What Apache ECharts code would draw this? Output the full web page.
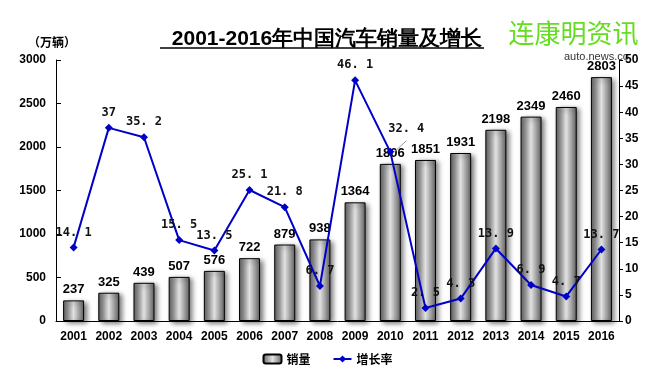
<!DOCTYPE html>
<html><head><meta charset="utf-8">
<script src="https://cdn.jsdelivr.net/npm/echarts@6/dist/echarts.min.js"></script>
<style>html,body{margin:0;padding:0;background:#fff}#c{width:655px;height:386px}</style>
</head><body><div id="c"></div>
<script>
const years = ['2001','2002','2003','2004','2005','2006','2007','2008','2009','2010','2011','2012','2013','2014','2015','2016'];
const sales = [237,325,439,507,576,722,879,938,1364,1806,1851,1931,2198,2349,2460,2803];
const growth = [14.1,37,35.2,15.5,13.5,25.1,21.8,6.7,46.1,32.4,2.5,4.3,13.9,6.9,4.7,13.7];
const leftTicks = {min:0,max:3000,interval:500};
const rightTicks = {min:0,max:50,interval:5};

const chart = echarts.init(document.getElementById('c'));
const lblFont = 'Liberation Sans, Arial, sans-serif';
const barFill = new echarts.graphic.LinearGradient(0,0,1,0,[
  {offset:0,color:'#606060'},{offset:0.5,color:'#e2e2e2'},{offset:1,color:'#606060'}]);
const lineData = growth.map((v,i)=> i===9 ? {value:v,label:{offset:[16,-8]},labelLine:{show:true}} : v);

chart.setOption({
  animation:false,
  title:{text:'2001-2016年中国汽车销量及增长',left:322,textAlign:'center',top:24,
    textStyle:{fontSize:21,fontWeight:'bold',color:'#000',fontFamily:lblFont}},
  graphic:[
    {type:'line',shape:{x1:160,y1:48,x2:484,y2:48},style:{stroke:'#000',lineWidth:1.5}},
    {type:'text',left:28,top:36,style:{text:'（万辆）',fontSize:12,fontWeight:'bold',fill:'#000',fontFamily:'Noto Sans CJK SC'}},
    {type:'text',left:508,top:20,style:{text:'连康明资讯',fontSize:26,fill:'#66dd22',stroke:'#fff',lineWidth:1,fontFamily:'Noto Sans CJK SC'}},
    {type:'text',left:564,top:51,style:{text:'auto.news.co',fontSize:11,fill:'#333',fontFamily:lblFont}}
  ],
  legend:{bottom:16,left:'center',itemGap:22,itemWidth:18,itemHeight:9,
    textStyle:{fontSize:12,fontWeight:'bold',color:'#000',fontFamily:'Noto Sans CJK SC'},
    data:['销量','增长率']},
  grid:{left:56,right:36,top:60,bottom:65},
  xAxis:{type:'category',data:years,boundaryGap:true,
    axisLine:{lineStyle:{color:'#000'}},
    axisTick:{inside:true,length:5,lineStyle:{color:'#000'}},
    axisLabel:{fontSize:12,fontWeight:'bold',color:'#000',margin:10,fontFamily:lblFont,interval:0}},
  yAxis:[
    {type:'value',min:leftTicks.min,max:leftTicks.max,interval:leftTicks.interval,
     axisLine:{show:true,lineStyle:{color:'#000'}},axisTick:{show:true,inside:true,length:5,lineStyle:{color:'#000'}},
     splitLine:{show:false},axisLabel:{fontSize:12,fontWeight:'bold',color:'#000',margin:10,fontFamily:lblFont,formatter:v=>String(v)}},
    {type:'value',min:rightTicks.min,max:rightTicks.max,interval:rightTicks.interval,position:'right',
     axisLine:{show:true,lineStyle:{color:'#000'}},axisTick:{show:true,length:4,lineStyle:{color:'#000'}},
     splitLine:{show:false},axisLabel:{fontSize:12,fontWeight:'bold',color:'#000',margin:6,fontFamily:lblFont,formatter:v=>String(v)}}
  ],
  series:[
    {name:'销量',type:'bar',data:sales,barWidth:21,
     itemStyle:{color:barFill,borderColor:'#000',borderWidth:1,shadowColor:'rgba(0,0,0,0.55)',shadowBlur:5,shadowOffsetX:3,shadowOffsetY:2},
     label:{show:true,position:'top',distance:4,fontSize:13,fontWeight:'bold',color:'#000',fontFamily:lblFont}},
    {name:'增长率',type:'line',yAxisIndex:1,data:lineData,z:5,
     symbol:'diamond',symbolSize:8,
     lineStyle:{color:'#0000c8',width:2},itemStyle:{color:'#0000c8'},
     labelLine:{lineStyle:{color:'#999'}},
     label:{show:true,position:'top',distance:5,fontSize:12,fontWeight:'bold',color:'#111',fontFamily:'DejaVu Sans Mono, monospace',
       formatter:p=>String(p.value).replace('.', '. ')}}
  ]
});
</script></body></html>
